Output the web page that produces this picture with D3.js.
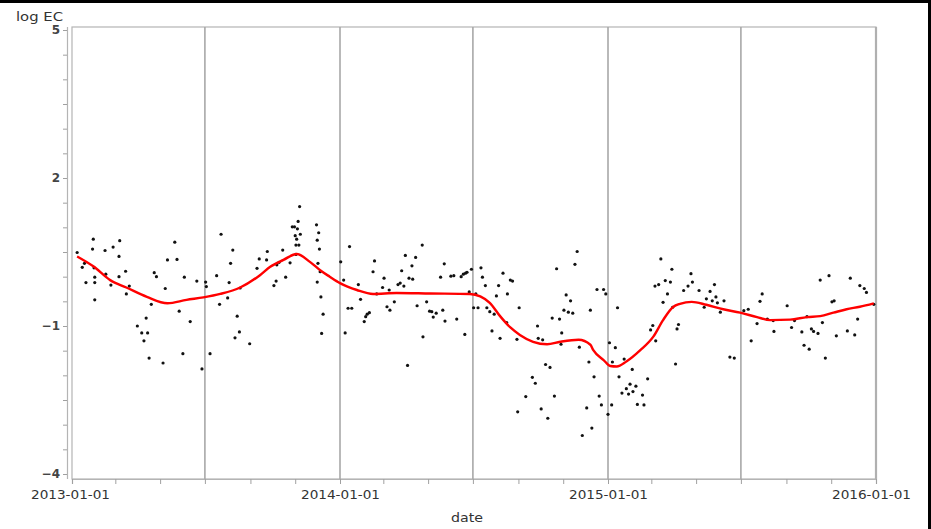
<!DOCTYPE html>
<html>
<head>
<meta charset="utf-8">
<script src="https://cdn.jsdelivr.net/npm/d3@7"></script>
<style>
body { margin: 0; background: #fff; }
text { font-family: "DejaVu Sans", sans-serif; }
</style>
</head>
<body>
<script>
// observations: days since startDate, and log EC value
var startDate = "2013-01-01";
var obsDay = [
  7,14,17,19,28,29,30,31,31,31,
  45,46,53,56,64,64,65,73,74,78,
  89,95,98,101,103,105,108,112,115,124,
  127,130,140,143,146,151,153,161,170,177,
  182,183,188,197,201,203,212,214,216,219,
  222,225,228,229,242,252,255,265,266,275,
  278,279,282,287,291,297,300,303,304,305,
  305,306,307,308,309,310,311,333,334,334,
  335,336,337,338,339,340,342,366,370,372,
  376,378,381,390,393,398,400,402,405,410,
  412,415,423,425,429,432,433,439,444,447,
  449,452,454,457,459,463,464,468,470,477,
  478,483,487,490,492,496,502,505,507,508,
  516,520,524,530,533,535,536,538,541,544,
  547,550,553,557,559,563,565,569,572,575,
  578,581,583,587,592,593,597,600,606,607,
  609,618,627,631,634,635,639,641,645,648,
  651,654,657,660,664,666,667,670,673,676,
  679,682,685,688,691,695,701,704,706,708,
  711,715,718,721,724,727,730,732,735,736,
  740,743,745,749,752,755,758,760,763,764,
  768,770,777,779,784,788,791,794,795,799,
  802,805,808,811,815,817,818,822,824,826,
  833,839,843,845,854,861,864,869,872,875,
  877,879,883,888,896,902,915,921,925,933,
  937,940,947,955,956,974,980,984,994,997,
  1001,1004,1007,1010,1016,1019,1022,1026,1031,1035,
  1038,1041,1056,1060,1066,1070,1073,1079,1082,1092
];
var obsLogEC = [
  0.49,0.19,0.27,-0.12,0.56,0.76,0.18,-0.01,-0.47,-0.12,
  0.53,0.05,-0.17,0.60,0.00,0.41,0.73,0.11,-0.35,-0.19,
  -1.00,-1.14,-1.30,-0.84,-1.14,-1.65,-0.56,0.08,0.00,-1.75,
  -0.24,0.34,0.70,0.35,-0.70,-1.56,-0.01,-0.91,-0.09,-1.87,
  -0.11,-0.20,-1.56,0.02,-0.56,0.86,-0.43,-0.12,0.27,0.54,
  -1.24,-0.80,-1.12,-0.23,-1.36,0.17,0.36,0.34,0.51,-0.18,
  -0.09,0.24,0.29,0.54,-0.01,0.28,1.01,1.01,0.83,0.64,
  0.45,0.76,0.97,1.12,0.64,1.42,0.86,1.05,-0.11,0.74,
  0.27,0.89,0.56,0.10,-0.41,-1.15,-0.76,0.30,-0.07,-1.14,
  -0.64,0.61,-0.64,-0.16,-0.46,-0.91,-0.81,-0.76,-0.73,0.10,
  0.32,-0.35,-0.22,-0.03,-0.61,-0.27,-0.68,-0.51,-0.16,-0.13,
  0.12,-0.19,0.43,-1.80,-0.03,0.22,-0.05,0.39,-0.59,0.64,
  -1.22,-0.51,-0.70,-0.71,-0.82,-0.74,-0.01,-0.68,0.26,-0.90,
  0.01,0.02,-0.86,0.00,0.05,-1.17,0.07,0.09,-0.31,0.15,
  -0.63,-0.35,-0.63,0.18,-0.01,-0.18,-0.63,-0.71,-1.10,-0.76,
  -0.39,-0.18,-1.25,0.07,-0.93,-0.35,-0.07,-0.09,-1.27,-2.74,
  -0.63,-2.43,-2.04,-2.16,-1.00,-1.25,-2.68,-1.28,-1.78,-2.87,
  -1.84,-0.84,-2.42,0.16,-0.86,-1.37,-1.14,-0.68,-0.37,-0.72,
  -0.49,-0.74,0.25,0.51,-1.43,-3.22,-2.66,-1.73,-0.68,-3.07,
  -2.03,-0.26,-2.42,-2.60,-0.26,-0.35,-2.79,-1.34,-2.60,-1.73,
  -1.44,-0.63,-2.03,-2.36,-1.67,-2.27,-2.38,-2.18,-1.88,-2.33,
  -2.22,-2.59,-2.40,-2.60,-2.07,-1.08,-0.99,-0.19,-1.30,-0.16,
  0.36,-0.52,-0.08,-0.35,-0.11,0.15,-0.62,-1.77,-1.06,-0.97,
  -0.28,-0.19,0.06,-0.11,-0.28,-0.62,-0.45,-0.30,-0.49,-0.16,
  -0.41,-0.53,-0.72,-0.49,-1.63,-1.65,-0.69,-0.66,-1.30,-0.95,
  -0.50,-0.35,-0.86,-0.89,-1.11,-0.59,-1.03,-0.89,-1.12,-1.39,
  -0.81,-1.47,-1.06,-1.11,-1.15,-0.07,-0.93,-1.65,0.02,-0.51,
  -0.49,-1.20,-1.10,-0.03,-1.18,-0.86,-0.18,-0.24,-0.32,-0.56
];

// smoothed fit (red line)
var fitDay = [7,29,52,74,102,130,156,179,202,229,256,270,288,306,324,338,351,365,388,410,
  442,488,542,556,569,583,597,610,628,647,665,690,706,710,724,733,742,755,774,792,
  805,819,828,844,864,887,910,933,951,978,1001,1019,1037,1055,1073,1092];
var fitLogEC = [0.41,0.21,-0.07,-0.22,-0.41,-0.54,-0.47,-0.42,-0.35,-0.22,0.03,0.20,0.34,0.46,0.30,0.13,0.00,-0.13,-0.27,-0.35,
  -0.33,-0.34,-0.35,-0.40,-0.53,-0.80,-1.03,-1.18,-1.32,-1.37,-1.32,-1.28,-1.38,-1.49,-1.69,-1.81,-1.82,-1.72,-1.49,-1.21,
  -0.88,-0.61,-0.55,-0.51,-0.57,-0.66,-0.73,-0.82,-0.88,-0.87,-0.82,-0.80,-0.73,-0.66,-0.61,-0.54];

var refLineDates = ["2013-07-01","2014-01-01","2014-07-01","2015-01-01","2015-07-01"];
var xDomain = ["2013-01-01","2016-01-01"];
var yDomain = [-4, 5];
var yLabelValues = [5, 2, -1, -4];

var W = 931, H = 529;
var frame = {left:72, right:876, top:27, bottom:479};

var parse = d3.utcParse("%Y-%m-%d");
var t0 = parse(startDate);

var x = d3.scaleUtc()
          .domain(xDomain.map(parse))
          .range([frame.left, frame.right]);
var y = d3.scaleLinear()
          .domain(yDomain)
          .range([474, 30]);

var svg = d3.select('body')
            .append('svg')
            .attr('width', W)
            .attr('height', H);

svg.append('rect').attr('width', W).attr('height', H).attr('fill', '#fff');

// frame
svg.append('rect')
   .attr('x', frame.left).attr('y', frame.top)
   .attr('width', frame.right - frame.left)
   .attr('height', frame.bottom - frame.top)
   .attr('fill', 'none')
   .attr('stroke', '#b4b4b4')
   .attr('stroke-width', 1.2);
svg.append('line')
   .attr('x1', frame.right).attr('x2', frame.right)
   .attr('y1', frame.top).attr('y2', frame.bottom)
   .attr('stroke', '#b0b0b0').attr('stroke-width', 2.2);

// vertical reference lines
svg.selectAll('.ref')
   .data(refLineDates)
   .enter()
   .append('line')
   .attr('class', 'ref')
   .attr('x1', function(d){ return x(parse(d)); })
   .attr('x2', function(d){ return x(parse(d)); })
   .attr('y1', frame.top)
   .attr('y2', frame.bottom)
   .attr('stroke', '#a8a8a8')
   .attr('stroke-width', 1.6);

// x axis
var xTicks = d3.utcMonth.every(2).range(parse(xDomain[0]), d3.utcDay.offset(parse(xDomain[1]), 1));
var fmt = d3.utcFormat("%Y-%m-%d");
var xAxis = d3.axisBottom(x)
              .tickValues(xTicks)
              .tickSizeOuter(0)
              .tickSize(5)
              .tickPadding(6)
              .tickFormat(function(d){ return d.getUTCMonth() === 0 ? fmt(d) : ""; });

var gx = svg.append('g')
   .attr('transform', 'translate(0,' + frame.bottom + ')')
   .call(xAxis);
gx.select('.domain').attr('stroke', '#b4b4b4').attr('stroke-width', 1.2);
gx.selectAll('.tick line').attr('stroke', '#a0a0a0');
gx.selectAll('.tick text')
  .attr('font-family', '"DejaVu Sans", sans-serif')
  .attr('font-size', '12px')
  .attr('fill', '#333')
  .attr('y', 11)
  .attr('dx', function(d){ return d.getUTCFullYear() === 2016 ? -5 : (d.getUTCFullYear() === 2013 ? -2 : 0); })
  .each(function(d){
    if (d.getUTCMonth() === 0) {
      d3.select(this).attr('textLength', 79).attr('lengthAdjust', 'spacingAndGlyphs');
    }
  });

// y axis (offset a little to the left of the frame)
var yTicks = d3.range(yDomain[0], yDomain[1] + 0.01, 0.5);
var yAxis = d3.axisLeft(y)
              .tickValues(yTicks)
              .tickSizeOuter(0)
              .tickSize(4)
              .tickPadding(3)
              .tickFormat(function(d){ return yLabelValues.indexOf(d) >= 0 ? d3.format("d")(d) : ""; });

var gy = svg.append('g')
   .attr('transform', 'translate(67,0)')
   .call(yAxis);
gy.select('.domain')
  .attr('d', 'M0.5,' + frame.top + 'V' + frame.bottom)
  .attr('stroke', '#b4b4b4').attr('stroke-width', 1.2);
gy.selectAll('.tick line').attr('stroke', '#a0a0a0');
gy.selectAll('.tick text')
  .attr('font-family', '"DejaVu Sans", sans-serif')
  .attr('font-size', '12px')
  .attr('font-weight', 'bold')
  .attr('fill', '#444');

// observations
var points = obsDay.map(function(d, i){ return {date: d3.utcDay.offset(t0, d), v: obsLogEC[i]}; });
svg.selectAll('.pt')
   .data(points)
   .enter()
   .append('circle')
   .attr('class', 'pt')
   .attr('cx', function(d){ return x(d.date); })
   .attr('cy', function(d){ return y(d.v); })
   .attr('r', 1.6)
   .attr('fill', '#111');

// smoothed fit
var fit = fitDay.map(function(d, i){ return {date: d3.utcDay.offset(t0, d), v: fitLogEC[i]}; });
var line = d3.line()
             .x(function(d){ return x(d.date); })
             .y(function(d){ return y(d.v); })
             .curve(d3.curveMonotoneX);
svg.append('path')
   .datum(fit)
   .attr('d', line)
   .attr('fill', 'none')
   .attr('stroke', '#ff0000')
   .attr('stroke-width', 2.4);

// axis titles
svg.append('text')
   .attr('x', 16).attr('y', 21)
   .attr('font-size', '12px')
   .attr('fill', '#333')
   .attr('textLength', 47)
   .attr('lengthAdjust', 'spacingAndGlyphs')
   .text('log EC');
svg.append('text')
   .attr('x', 467).attr('y', 522)
   .attr('text-anchor', 'middle')
   .attr('font-size', '12px')
   .attr('fill', '#333')
   .attr('textLength', 32)
   .attr('lengthAdjust', 'spacingAndGlyphs')
   .text('date');

// black border (top and right)
svg.append('rect').attr('x', 0).attr('y', 0).attr('width', W).attr('height', 3).attr('fill', '#000');
svg.append('rect').attr('x', W - 3).attr('y', 0).attr('width', 3).attr('height', H).attr('fill', '#000');
</script>
</body>
</html>
